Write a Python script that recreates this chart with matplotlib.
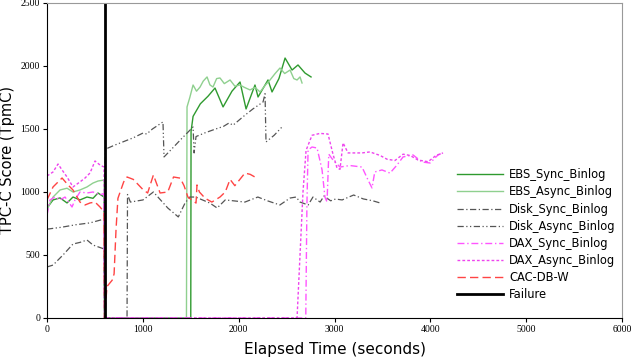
import matplotlib
matplotlib.use("Agg")
import matplotlib.pyplot as plt

# ---------------- data ----------------
failure_time = 600

ebs_sync_t = [0, 63, 136, 209, 271, 344, 417, 480, 532, 595, 600, 1500, 1503, 1524, 1600, 1680, 1753, 1837,
              1930, 2014, 2077, 2170, 2202, 2306, 2348, 2420, 2484, 2557, 2619, 2692, 2755]
ebs_sync_v = [873, 937, 953, 913, 960, 937, 960, 950, 992, 960, 0, 0, 1480, 1600, 1700, 1760, 1825, 1675,
              1800, 1873, 1659, 1849, 1754, 1889, 1794, 1900, 2063, 1968, 2008, 1944, 1913]

ebs_async_t = [0, 63, 136, 209, 271, 344, 417, 480, 532, 595, 600, 1455, 1461, 1490, 1524, 1560, 1597, 1630,
               1670, 1700, 1732, 1770, 1805, 1850, 1910, 1960, 2014, 2060, 2118, 2170, 2223, 2280, 2327,
               2380, 2431, 2480, 2536, 2575, 2609, 2640, 2661]
ebs_async_v = [860, 960, 1016, 1030, 1000, 1016, 1040, 1071, 1087, 1095, 0, 0, 1675, 1750, 1849, 1800, 1833,
               1880, 1913, 1850, 1833, 1900, 1905, 1860, 1889, 1840, 1849, 1830, 1810, 1830, 1794, 1850,
               1889, 1940, 1984, 1940, 1968, 1900, 1889, 1913, 1865]

disk_sync_t = [0, 63, 167, 271, 344, 417, 480, 595, 600, 835, 840, 870, 1002, 1110, 1260, 1370, 1440, 1490,
               1550, 1700, 1775, 1860, 2065, 2200, 2300, 2430, 2536, 2600, 2640, 2725, 2775, 2850, 2890,
               2960, 3010, 3080, 3150, 3200, 3300, 3400, 3475]
disk_sync_v = [405, 420, 500, 587, 600, 619, 579, 548, 0, 0, 980, 920, 937, 1000, 873, 802, 912, 960,
               960, 912, 873, 937, 920, 960, 930, 897, 952, 960, 920, 897, 960, 920, 968,
               930, 944, 937, 960, 976, 945, 930, 913]

disk_async_t = [0, 150, 300, 450, 595, 610, 700, 800, 900, 1002, 1040, 1100, 1210, 1221, 1300, 1400, 1524,
                1535, 1555, 1650, 1760, 1840, 1900, 1941, 2050, 2150, 2254, 2275, 2285, 2370, 2452]
disk_async_v = [705, 720, 740, 755, 785, 1340, 1370, 1400, 1430, 1468, 1460, 1500, 1556, 1278, 1340, 1420,
                1516, 1310, 1440, 1470, 1500, 1520, 1548, 1530, 1600, 1660, 1714, 1780, 1397, 1450, 1516]

dax_sync_t = [0, 31, 83, 136, 188, 261, 292, 344, 417, 480, 553, 595, 600, 2700, 2712, 2724, 2765, 2818,
              2870, 2900, 2922, 2940, 2984, 3057, 3160, 3287, 3350, 3391, 3420, 3495, 3579, 3652, 3715,
              3819, 3913, 3997, 4080, 4132]
dax_sync_v = [817, 937, 960, 937, 960, 881, 937, 1000, 992, 1000, 976, 990, 0, 0, 900, 1333, 1357, 1349,
              1175, 960, 920, 1300, 1254, 1198, 1210, 1198, 1095, 1032, 1159, 1175, 1150, 1214, 1278,
              1294, 1238, 1230, 1294, 1310]

dax_async_t = [0, 63, 115, 157, 209, 271, 344, 397, 449, 501, 553, 595, 600, 2609, 2640, 2671, 2703, 2765,
               2849, 2932, 2984, 3026, 3057, 3089, 3141, 3287, 3370, 3475, 3548, 3631, 3715, 3788, 3871,
               3976, 4059, 4132]
dax_async_v = [1127, 1159, 1222, 1175, 1119, 1040, 1080, 1111, 1151, 1246, 1214, 1198, 0, 0, 500, 1000,
               1330, 1450, 1465, 1460, 1300, 1190, 1180, 1390, 1310, 1310, 1318, 1290, 1260, 1250, 1300,
               1290, 1254, 1240, 1290, 1310]

cac_t = [0, 63, 157, 219, 271, 344, 397, 449, 501, 553, 595, 600, 626, 680, 700, 720, 740, 800, 835, 900,
         1000, 1050, 1110, 1180, 1260, 1320, 1390, 1430, 1470, 1555, 1565, 1590, 1650, 1720, 1805, 1860,
         1910, 1960, 2065, 2120, 2190]
cac_v = [937, 1040, 1111, 1056, 1016, 920, 897, 913, 920, 881, 841, 0, 250, 300, 350, 700, 950, 1080, 1119,
         1100, 1020, 992, 1135, 992, 1000, 1119, 1110, 1050, 960, 912, 1056, 1000, 950, 920, 960, 1000,
         1100, 1050, 1150, 1140, 1110]

x_ticks = [0, 1000, 2000, 3000, 4000, 5000, 6000]
y_ticks = [0, 500, 1000, 1500, 2000, 2500]

# ---------------- plot ----------------
fig = plt.figure(figsize=(6.37, 3.64), dpi=100)
ax = fig.add_axes([0.0738, 0.1264, 0.9027, 0.8654])

ax.plot(ebs_sync_t, ebs_sync_v, color="#2f9a2f", lw=1.0, label="EBS_Sync_Binlog")
ax.plot(ebs_async_t, ebs_async_v, color="#8fd08f", lw=1.0, label="EBS_Async_Binlog")
ax.plot(disk_sync_t, disk_sync_v, color="#555555", lw=0.9, dashes=(5, 2, 1, 2),
        label="Disk_Sync_Binlog")
ax.plot(disk_async_t, disk_async_v, color="#555555", lw=0.9, dashes=(5, 2, 1, 2, 1, 2),
        label="Disk_Async_Binlog")
ax.plot(dax_sync_t, dax_sync_v, color="#ff55ff", lw=1.0, dashes=(5, 2, 1, 2),
        label="DAX_Sync_Binlog")
ax.plot(dax_async_t, dax_async_v, color="#ee44ee", lw=1.0, dashes=(2, 1.5),
        label="DAX_Async_Binlog")
ax.plot(cac_t, cac_v, color="#ff4444", lw=1.0, dashes=(6, 3), label="CAC-DB-W")
ax.axvline(failure_time, color="black", lw=2.0, label="Failure")

ax.set_xlim(0, 6000)
ax.set_ylim(0, 2500)
ax.set_xticks(x_ticks)
ax.set_yticks(y_ticks)
tick_font = dict(family="Liberation Serif", size=7)
ax.set_xticklabels([str(v) for v in x_ticks], **tick_font)
ax.set_yticklabels([str(v) for v in y_ticks], **tick_font)
ax.tick_params(direction="out", length=3, width=0.8, pad=2)

for s in ["top", "right"]:
    ax.spines[s].set_color("#999999")
for s in ["left", "bottom"]:
    ax.spines[s].set_color("black")

ax.set_xlabel("Elapsed Time (seconds)", fontsize=11, labelpad=6)
ax.set_ylabel("TPC-C Score (TpmC)", fontsize=10.5, labelpad=4)

leg = ax.legend(loc="upper left", bbox_to_anchor=(0.705, 0.49), frameon=False, fontsize=8.3,
                handlelength=4.0, handletextpad=0.5, labelspacing=0.36, borderaxespad=0)

fig.savefig("out.png", dpi=100)
